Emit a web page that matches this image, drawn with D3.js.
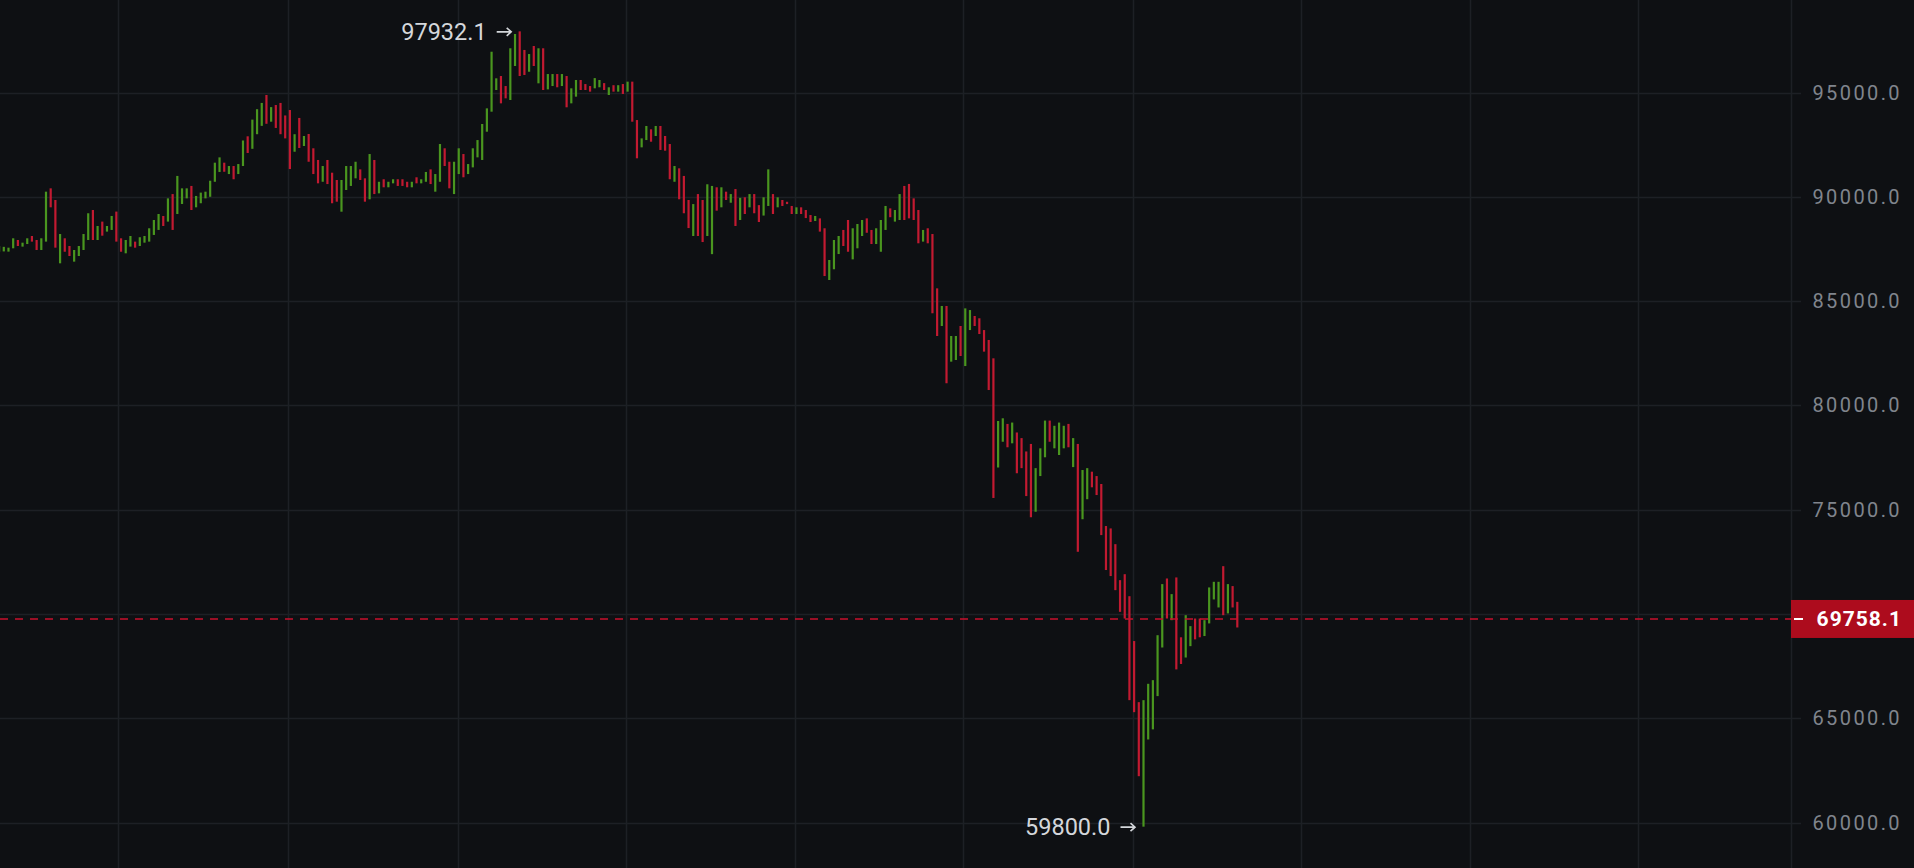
<!DOCTYPE html>
<html><head><meta charset="utf-8">
<script src="https://cdn.jsdelivr.net/npm/d3@7/dist/d3.min.js"></script>
<style>html,body{margin:0;padding:0;background:#0e1013;overflow:hidden}</style>
</head><body><svg id="c" width="1914" height="868"></svg>
<script>
// ---- data (4h bars) ----
const highs = [87640,87600,87560,88010,87928,87800,88010,88120,87928,88010,
90245,90405,89846,88215,88010,87640,87449,87640,88215,89210,
89366,88600,88810,88600,89080,89290,88010,87928,88120,87850,
88060,88120,88490,88887,89175,89080,89925,90130,91000,90405,
90405,90520,90040,90200,90245,90770,91635,91890,91635,91475,
91475,91570,92700,92900,93700,94200,94500,94880,94300,94400,
94500,93900,94160,93000,93780,92915,93010,92325,91765,91475,
91765,91155,90805,90805,91475,91475,91680,91315,90885,92050,
91765,90720,90840,90720,90840,90840,90840,90720,90720,90935,
90840,91190,91315,91090,92530,92325,91680,91680,92325,92050,
91570,92325,92720,93490,94240,96955,95680,95790,95310,97120,
97805,97932.1,97040,96845,97230,97120,97120,95885,95885,95885,
95885,95790,95200,95600,95600,95405,95310,95690,95600,95450,
95250,95350,95350,95405,95520,95520,93680,92800,93395,93235,
93395,93395,92915,92530,91475,91365,91000,89846,89650,90130,
89846,90600,90520,90455,90455,90245,90130,90370,89950,89975,
90130,90130,89600,89975,91315,90130,89975,89846,89760,89560,
89495,89495,89366,89125,89080,88965,88490,86970,87928,88120,
88410,88887,88490,88695,88887,88965,88410,88490,88887,89560,
89445,89366,90130,90520,90615,89925,89366,88410,88490,88215,
85610,84765,84765,83325,83325,83805,84650,84570,84285,84175,
83610,83135,82255,79250,79380,79110,79175,78700,78430,77790,
78150,76990,77940,79270,79270,79020,79175,79020,79110,78430,
78150,76900,76990,76820,76610,76230,74215,74100,73345,71620,
71905,70850,68700,65770,65866,66650,66825,68980,71430,71700,
70950,71750,68880,69940,69415,69780,69780,69700,71270,71540,
71540,72290,71430,71335,70580];
const lows = [87365,87380,87370,87530,87640,87610,87735,87850,87449,87449,
87850,89495,87560,86810,87365,87160,86890,87160,87449,87928,
87928,87928,88135,88330,88410,87850,87365,87290,87610,87560,
87640,87800,87850,88170,88410,88600,88810,88410,89175,89655,
89925,89366,89495,89690,89925,90000,90720,91190,91200,91090,
90840,91090,91475,92100,92300,93000,93400,93500,93600,93300,
93000,92800,91330,92160,92340,92435,91680,91090,90645,90720,
90610,89690,89765,89285,90325,90520,90885,90805,89765,89880,
90130,90165,90455,90455,90645,90520,90520,90455,90455,90645,
90645,90720,90610,90245,90720,91475,90405,90130,91090,90935,
91090,91410,91890,91765,93120,94080,95120,94480,94720,94640,
96270,95790,95840,95995,96270,95440,95120,95150,95310,95250,
95310,94290,94480,94800,95120,95120,95040,95200,95250,95120,
94880,95040,95040,94930,95040,93600,91845,92370,92720,92640,
92915,92245,92210,90840,90720,89880,89210,88500,88120,88120,
87830,88120,87250,89335,89495,89846,89715,88600,88887,89175,
89495,89210,88790,89100,89560,89175,89495,89560,89650,89175,
89175,89175,88980,88790,88840,88330,86200,86010,86525,87255,
87640,87365,87000,87530,88120,88275,87735,87735,87365,88410,
89020,88810,88887,88887,88965,88887,87770,87850,87770,84415,
83325,83805,81060,82095,82175,82365,81885,83610,83805,83420,
82575,80735,75560,77020,78255,77990,78180,76745,76990,75650,
74635,74900,76610,77510,78255,77940,77620,77940,77990,77040,
72980,74540,75500,76070,75700,73780,72105,71815,71140,70100,
69780,65866,65290,62220,59800,63980,64465,66060,68390,69780,
69700,67340,67600,67910,68455,68780,68880,68940,69545,70695,
70310,69940,70025,70310,69350];
// u = bar closed up (green), d = bar closed down (red)
const dirs = [
'u','u','u','u','d','u','u','d','d','u',
'u','d','d','u','d','d','u','u','u','u',
'd','u','d','u','u','d','d','u','u','d',
'u','u','u','u','u','d','u','d','u','u',
'u','d','u','u','u','u','u','u','d','u',
'd','u','u','d','u','u','u','d','u','d',
'd','d','d','u','d','u','d','d','d','u',
'd','d','d','u','u','u','u','d','d','u',
'd','u','d','u','u','d','d','d','u','d',
'u','u','d','u','u','d','d','u','u','d',
'u','u','u','u','u','u','u','d','d','u',
'u','d','d','u','d','u','d','u','u','d',
'u','d','u','u','d','d','d','u','u','d',
'u','d','u','d','u','d','d','u','u','d',
'u','d','d','d','u','d','d','d','u','d',
'd','u','u','d','u','d','u','d','u','d',
'u','d','d','u','u','d','u','d','d','d',
'u','d','d','d','u','d','d','u','u','u',
'd','d','u','u','u','d','d','u','u','u',
'd','u','u','d','d','d','d','u','d','d',
'd','u','d','u','u','d','u','u','d','d',
'd','d','d','u','u','d','u','d','d','d',
'd','u','u','u','d','u','u','u','d','u',
'd','u','u','d','d','d','d','d','d','d',
'd','d','d','d','u','u','u','u','u','d',
'u','d','d','u','u','d','d','u','u','u',
'u','d','u','d','d'];
const yTicks = [60000, 65000, 70000, 75000, 80000, 85000, 90000, 95000];
const gridBars = [25.44, 61.62, 97.8, 133.71, 169.64, 205.54, 241.73, 277.65, 313.55, 349.48];
const lastPrice = 69758.1;
const maxPoint = {bar: 111, price: 97932.1};
const minPoint = {bar: 244, price: 59800.0};

const W = 1914, H = 868;
const plotRight = 1791;
const svg = d3.select('#c');
const C = {bg:'#0e1013', grid:'#1d2025', up:'#4a961f', down:'#c21a31', axisText:'#80858d',
           priceBox:'#ad0c1d', note:'#d4d7db'};

svg.append('rect').attr('width', W).attr('height', H).attr('fill', C.bg);

const n = highs.length;
const x = d3.scaleLinear().domain([0, n - 1]).range([-0.9, 1237.3]);
const y = d3.scaleLinear().domain([60000, 95000]).range([822.5, 92.5]);

// grid
const g = svg.append('g');
g.selectAll('line.h').data(yTicks).join('line')
  .attr('x1', 0).attr('x2', plotRight + 10)
  .attr('y1', d => Math.round(y(d)) + 0.5).attr('y2', d => Math.round(y(d)) + 0.5)
  .attr('stroke', C.grid).attr('stroke-width', 1.5);
g.selectAll('line.v').data(gridBars).join('line')
  .attr('x1', d => Math.round(x(d)) + 0.5).attr('x2', d => Math.round(x(d)) + 0.5)
  .attr('y1', 0).attr('y2', H)
  .attr('stroke', C.grid).attr('stroke-width', 1.5);
svg.append('line').attr('x1', plotRight + 0.5).attr('x2', plotRight + 0.5).attr('y1', 0).attr('y2', H)
  .attr('stroke', C.grid).attr('stroke-width', 1.5);

// bars
svg.append('clipPath').attr('id', 'clip').append('rect').attr('width', plotRight).attr('height', H);
const bars = svg.append('g').attr('clip-path', 'url(#clip)');
bars.selectAll('rect').data(d3.range(n)).join('rect')
  .attr('x', i => x(i) - 1.1).attr('width', 2.2)
  .attr('y', i => y(highs[i]))
  .attr('height', i => Math.max(1, y(lows[i]) - y(highs[i])))
  .attr('fill', i => dirs[i] === 'u' ? C.up : C.down);

// last price dashed line
svg.append('line').attr('x1', 0).attr('x2', plotRight)
  .attr('y1', y(lastPrice)).attr('y2', y(lastPrice))
  .attr('stroke', '#c8102e').attr('stroke-width', 1.5).attr('stroke-dasharray', '8,7');

// y axis labels (hidden where the last-price box covers them)
const fmt = d3.format('.1f');
const py = y(lastPrice);
svg.append('g').selectAll('text').data(yTicks.filter(d => Math.abs(y(d) - py) > 24)).join('text')
  .attr('x', 1902).attr('y', d => y(d)).attr('dy', '0.35em')
  .attr('text-anchor', 'end').attr('fill', C.axisText)
  .attr('font-family', 'Roboto, sans-serif').attr('font-size', 20).attr('letter-spacing', 2.4)
  .text(d => fmt(d));

// last price box
svg.append('rect').attr('x', plotRight).attr('y', py - 19).attr('width', W - plotRight).attr('height', 38)
  .attr('fill', C.priceBox);
svg.append('line').attr('x1', plotRight + 3).attr('x2', plotRight + 12).attr('y1', py).attr('y2', py)
  .attr('stroke', '#ffffff').attr('stroke-width', 2);
svg.append('text').attr('x', 1902).attr('y', py).attr('dy', '0.35em').attr('text-anchor', 'end')
  .attr('fill', '#ffffff').attr('font-family', 'Roboto, sans-serif').attr('font-weight', 'bold')
  .attr('font-size', 21).attr('letter-spacing', 1).text(fmt(lastPrice));

// extreme annotations
function note(p) {
  const tip = x(p.bar) - 8;
  const yy = y(p.price);
  const gg = svg.append('g');
  gg.append('text').attr('x', tip - 25).attr('y', yy).attr('dy', '0.35em').attr('text-anchor', 'end')
    .attr('fill', C.note).attr('font-family', 'Roboto, sans-serif').attr('font-size', 23.5)
    .text(fmt(p.price));
  gg.append('path').attr('d', `M${tip-15},${yy+0.5}H${tip-1}M${tip-5},${yy-3.5}L${tip-0.5},${yy+0.5}L${tip-5},${yy+4.5}`)
    .attr('stroke', C.note).attr('stroke-width', 1.6).attr('fill', 'none');
}
note(maxPoint);
note(minPoint);
</script>
</body></html>
